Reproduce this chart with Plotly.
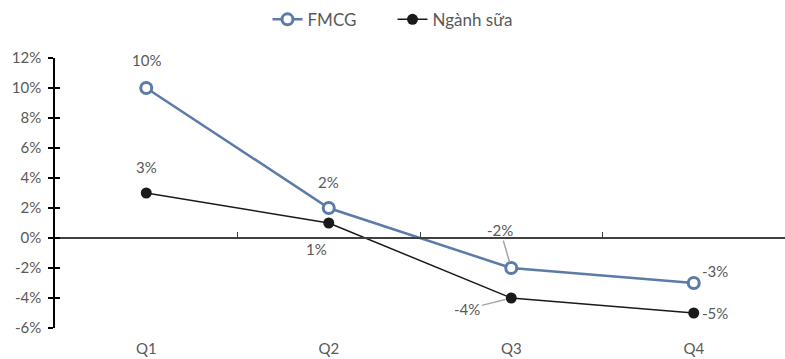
import plotly.graph_objects as go

quarters = ["Q1", "Q2", "Q3", "Q4"]
fmcg = [10, 2, -2, -3]
dairy = [3, 1, -4, -5]
y_ticks = [-6, -4, -2, 0, 2, 4, 6, 8, 10, 12]

BLUE = "#5b7ba8"
BLACK = "#1a1a1a"
TEXT = "#595959"
FONT = "Lato"

xpos = list(range(len(quarters)))

fig = go.Figure()
fig.add_trace(go.Scatter(
    x=xpos, y=fmcg, name="FMCG", mode="lines+markers",
    line=dict(color=BLUE, width=2.5),
    marker=dict(symbol="circle", size=11, color="white",
                line=dict(color=BLUE, width=3)),
))
fig.add_trace(go.Scatter(
    x=xpos, y=dairy, name="Ngành sữa", mode="lines+markers",
    line=dict(color=BLACK, width=1.5),
    marker=dict(symbol="circle", size=11, color=BLACK),
))
# helper trace so the overlay axes (tick marks) get drawn
fig.add_trace(go.Scatter(x=[xpos[0]], y=[0], xaxis="x2", yaxis="y2",
                         mode="markers", marker=dict(opacity=0),
                         showlegend=False, hoverinfo="skip"))

# data labels: (series, index, x shift px, y shift px (down positive), leader line)
label_specs = [
    (fmcg, 0, 0, -28, False),
    (fmcg, 1, 0, -26, False),
    (fmcg, 2, -11, -38, True),
    (fmcg, 3, 21, -12, False),
    (dairy, 0, 0, -26, False),
    (dairy, 1, -12, 26, False),
    (dairy, 2, -44, 11, True),
    (dairy, 3, 21, 0, False),
]
for series, i, dx, dy, leader in label_specs:
    text = f"{series[i]}%"
    if leader:
        fig.add_annotation(x=xpos[i], y=series[i], text=text, showarrow=True,
                           ax=dx, ay=dy, arrowhead=0, arrowwidth=1.5,
                           arrowcolor="#a6a6a6", standoff=6,
                           font=dict(family=FONT, size=15, color=TEXT))
    else:
        fig.add_annotation(x=xpos[i], y=series[i], text=text, showarrow=False,
                           xshift=dx, yshift=-dy,
                           font=dict(family=FONT, size=15, color=TEXT))

fig.update_layout(
    width=785, height=359,
    margin=dict(l=55, r=0, t=58, b=31),
    paper_bgcolor="white", plot_bgcolor="white",
    font=dict(family=FONT, size=15, color=TEXT),
    showlegend=True,
    legend=dict(orientation="h", x=0.5, xanchor="center", xref="container",
                y=0.995, yanchor="top", yref="container", entrywidth=80,
                entrywidthmode="pixels",
                font=dict(family=FONT, size=17, color=TEXT)),
    xaxis=dict(range=[-0.5, 3.5], tickvals=xpos, ticktext=quarters,
               showgrid=False, zeroline=False, showline=False, ticks="",
               ticklabelstandoff=10, domain=[0, 1],
               tickfont=dict(family=FONT, size=15, color=TEXT)),
    xaxis2=dict(range=[-0.5, 3.5], overlaying="x", anchor="free",
                position=6 / 18, side="bottom",
                tickvals=[0.5, 1.5, 2.5], ticks="inside", ticklen=5,
                tickcolor="#404040", showticklabels=False, showgrid=False,
                zeroline=False, showline=True, linecolor="#404040",
                linewidth=1.5),
    yaxis=dict(range=[-6, 12], tickvals=y_ticks,
               ticktext=[f"{v}%" for v in y_ticks],
               showgrid=False, zeroline=False, showline=True,
               linecolor="black", linewidth=1.5, ticks="outside",
               ticklen=5, tickcolor="black", tickwidth=1.5,
               ticklabelstandoff=4, domain=[0, 1],
               tickfont=dict(family=FONT, size=15, color=TEXT)),
    yaxis2=dict(range=[-6, 12], overlaying="y", anchor="x", side="left",
                tickvals=y_ticks, ticks="inside", ticklen=5,
                tickcolor="black", tickwidth=1.5, showticklabels=False,
                showgrid=False, zeroline=False, showline=False),
)

fig.write_html("out.html")
